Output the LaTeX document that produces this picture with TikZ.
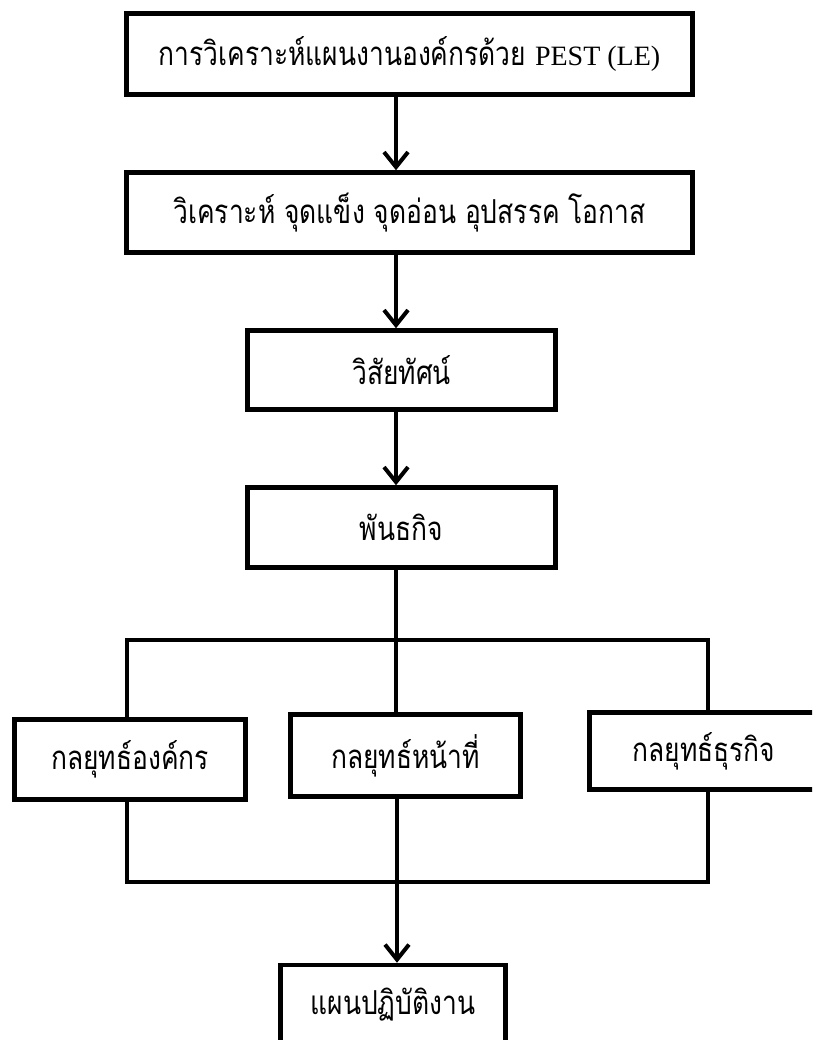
\documentclass[tikz,border=0pt]{standalone}
\usepackage{fontspec}
\newfontfamily\thai[Script=Thai,FakeStretch=0.8]{Loma}
\newfontfamily\latserif{Liberation Serif}
\usetikzlibrary{arrows.meta}
\tikzset{
  box/.style={draw=black, line width=4.5pt, fill=white, inner sep=0pt, align=center,
              font=\thai\fontsize{33}{38}\selectfont},
  link/.style={draw=black, line width=4pt, line join=miter},
  arr/.style={link, -{Straight Barb[length=15pt,width=24pt,line width=4pt]}}
}
\begin{document}
\begin{tikzpicture}[x=1pt,y=-1pt]
\useasboundingbox (0,0) rectangle (812,1040);
\clip (0,0) rectangle (812,1040);
\coordinate (spine) at (396,0);
\coordinate (lx) at (127,0);
\coordinate (rx) at (708,0);
\coordinate (top) at (396,640);
\coordinate (bot) at (397,882);

\node[box, minimum width=566pt, minimum height=81pt] (b1) at (409.5,54)
  {การวิเคราะห์แผนงานองค์กรด้วย {\latserif\fontsize{28}{32}\selectfont PEST (LE)}};
\node[box, minimum width=566pt, minimum height=80pt] (b2) at (409.5,212.5)
  {วิเคราะห์ จุดแข็ง จุดอ่อน อุปสรรค โอกาส};
\node[box, minimum width=308pt, minimum height=79pt] (b3) at (401.5,370) {วิสัยทัศน์};
\node[box, minimum width=308pt, minimum height=80pt] (b4) at (401.5,527.5) {พันธกิจ};
\node[box, minimum width=231pt, minimum height=80pt] (L) at (130,759.5) {กลยุทธ์องค์กร};
\node[box, minimum width=230pt, minimum height=82pt] (M) at (405.5,755.5) {กลยุทธ์หน้าที่};
\node[box, minimum width=229pt, minimum height=77pt] (R) at (704,751) {กลยุทธ์ธุรกิจ};
\node[box, minimum width=225pt, minimum height=80pt] (F) at (393,1005) {แผนปฏิบัติงาน};

\draw[arr] (b1.south -| spine) -- (b2.north -| spine);
\draw[arr] (b2.south -| spine) -- (b3.north -| spine);
\draw[arr] (b3.south -| spine) -- (b4.north -| spine);
\draw[link] (b4.south -| spine) -- (M.north -| spine);
\draw[link] (L.north -| lx) |- (top) -| (R.north -| rx);
\draw[link] (L.south -| lx) |- (bot) -| (R.south -| rx);
\draw[link] (M.south -| bot) -- (bot);
\draw[arr] (bot) -- (F.north -| bot);
\end{tikzpicture}
\end{document}
